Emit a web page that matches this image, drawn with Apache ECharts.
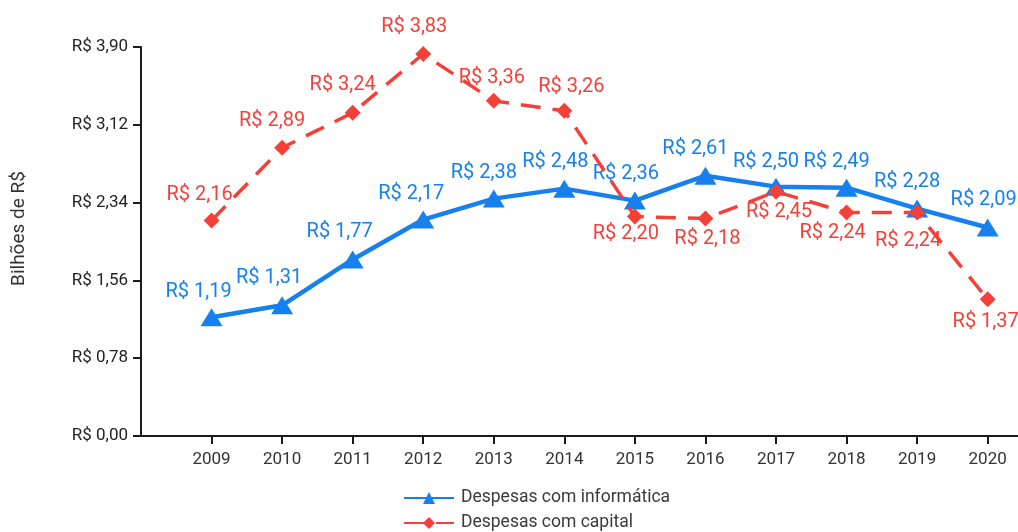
<!DOCTYPE html>
<html>
<head>
<meta charset="utf-8">
<script src="https://cdn.jsdelivr.net/npm/echarts@6/dist/echarts.min.js"></script>
<style>
  html, body { margin: 0; padding: 0; background: #fff; }
  #chart { width: 1018px; height: 532px; }
</style>
</head>
<body>
<div id="chart"></div>
<script>
// Anos e valores (bilhões de R$)
const years = [2009, 2010, 2011, 2012, 2013, 2014, 2015, 2016, 2017, 2018, 2019, 2020];
const informatica = [1.19, 1.31, 1.77, 2.17, 2.38, 2.48, 2.36, 2.61, 2.50, 2.49, 2.28, 2.09];
const capital = [2.16, 2.89, 3.24, 3.83, 3.36, 3.26, 2.20, 2.18, 2.45, 2.24, 2.24, 1.37];
const yTicks = [0, 0.78, 1.56, 2.34, 3.12, 3.90];
const seriesNames = ['Despesas com informática', 'Despesas com capital'];

// Deslocamento de cada rótulo em relação ao seu ponto (px)
const infoLabelOffset = [[-13,-25],[-13,-27],[-13,-27],[-12,-26],[-10,-26],[-9,-27],
                         [-9,-27],[-10,-27],[-10,-25],[-10,-26],[-10,-27],[-4,-28]];
const capLabelOffset = [[-12,-26],[-10,-27],[-10,-28],[-9,-27],[-2,-23],[7,-24],
                        [-9,17],[2,20],[3,20],[-14,20],[-9,28],[-2,23]];

const BLUE = '#1580ee';
const RED = '#f5403a';
const FONT = 'Roboto, "Liberation Sans", sans-serif';

const fmt = v => 'R$ ' + v.toFixed(2).replace('.', ',');

function points(values, offsets, color) {
  return values.map((v, i) => ({
    value: [years[i], v],
    label: {
      show: true,
      position: 'inside',
      offset: offsets[i],
      align: 'center',
      verticalAlign: 'middle',
      formatter: () => fmt(v),
      color: color,
      fontFamily: FONT,
      fontSize: 20
    }
  }));
}

const chart = echarts.init(document.getElementById('chart'));
chart.setOption({
  animation: false,
  backgroundColor: '#fff',
  grid: { left: 141, right: 0, top: 47, bottom: 96, containLabel: false },
  legend: {
    orient: 'vertical',
    left: 403,
    top: 489,
    height: 80,
    padding: 0,
    itemWidth: 50,
    itemHeight: 15,
    itemGap: 7,
    data: seriesNames,
    textStyle: { fontFamily: FONT, fontSize: 17.5, color: '#3a3a3a', padding: [0, 0, 0, 2] }
  },
  xAxis: {
    type: 'value',
    min: 2008,
    max: 2020.43,
    interval: 1,
    splitLine: { show: false },
    axisLine: { show: true, lineStyle: { color: '#1a1a1a', width: 2 } },
    axisTick: { show: true, length: 8, customValues: years, lineStyle: { color: '#1a1a1a', width: 2 } },
    axisLabel: {
      customValues: years,
      formatter: v => String(v),
      margin: 15,
      color: '#333',
      fontFamily: FONT,
      fontSize: 17
    }
  },
  yAxis: {
    type: 'value',
    min: 0,
    max: 3.9,
    interval: 0.78,
    name: 'Bilhões de R$',
    nameLocation: 'middle',
    nameGap: 112,
    nameRotate: 90,
    nameTextStyle: { fontFamily: FONT, fontSize: 19, color: '#333', padding: [0, 0, 0, 26] },
    splitLine: { show: false },
    axisLine: { show: true, lineStyle: { color: '#1a1a1a', width: 2 } },
    axisTick: { show: true, length: 8, lineStyle: { color: '#1a1a1a', width: 2 } },
    axisLabel: {
      customValues: yTicks,
      formatter: v => fmt(v),
      margin: 13,
      color: '#222',
      fontFamily: FONT,
      fontSize: 17
    }
  },
  series: [
    {
      name: seriesNames[0],
      type: 'line',
      data: points(informatica, infoLabelOffset, BLUE),
      color: BLUE,
      symbol: 'triangle',
      symbolSize: [22, 18],
      lineStyle: { color: BLUE, width: 4.5 },
      itemStyle: { color: BLUE },
      z: 2
    },
    {
      name: seriesNames[1],
      type: 'line',
      data: points(capital, capLabelOffset, RED),
      color: RED,
      symbol: 'diamond',
      symbolSize: 16,
      lineStyle: { color: RED, width: 3.5, type: [20, 12] },
      itemStyle: { color: RED },
      z: 3
    }
  ]
});
</script>
</body>
</html>
